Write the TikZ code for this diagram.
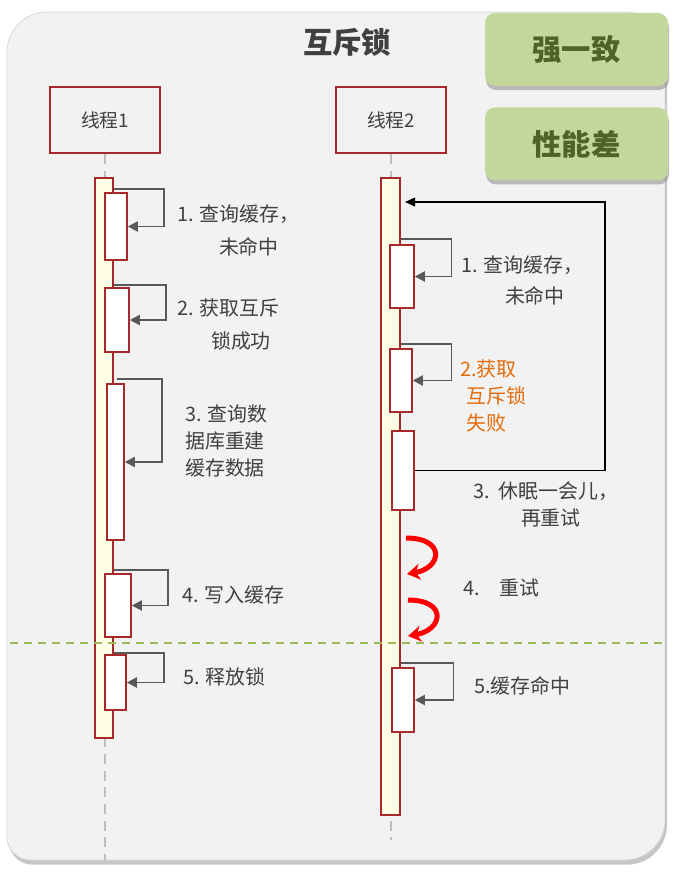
\documentclass[tikz,border=0pt]{standalone}
\usepackage{fontspec}
\setmainfont{Noto Sans CJK SC}
\usepackage{tikz}
\usetikzlibrary{arrows.meta, positioning, calc, shadows}
\definecolor{panelgray}{HTML}{F2F2F2}
\definecolor{panelline}{HTML}{D4D4D4}
\definecolor{lockred}{HTML}{A9292B}
\definecolor{barfill}{HTML}{FFFFE6}
\definecolor{textgray}{HTML}{404040}
\definecolor{arrowgray}{HTML}{595959}
\definecolor{greenbox}{HTML}{C3D69B}
\definecolor{greentext}{HTML}{4F6228}
\definecolor{failorange}{HTML}{E46C0A}
\definecolor{splitgreen}{HTML}{9BBB59}
\definecolor{lifegray}{HTML}{BFBFBF}

\begin{document}
\begin{tikzpicture}[
    x=0.3mm, y=-0.3mm,
    node distance=6.3mm,
    panel/.style={
        draw=panelline,
        fill=panelgray,
        line width=0.6pt,
        drop shadow={shadow xshift=0.6mm, shadow yshift=-1.4mm, opacity=0.45}
    },
    tagbox/.style={
        rectangle,
        rounded corners=3mm,
        fill=greenbox,
        minimum width=54.9mm,
        minimum height=21.9mm,
        font=\fontsize{25}{30}\selectfont\bfseries,
        text=greentext,
        drop shadow={shadow xshift=0.3mm, shadow yshift=-1.2mm, opacity=0.5}
    },
    thread/.style={
        rectangle,
        draw=lockred,
        line width=1.5pt,
        minimum width=33mm,
        minimum height=19.8mm,
        font=\fontsize{16}{20}\selectfont,
        text=textgray
    },
    bar/.style={rectangle, draw=lockred, fill=barfill, line width=1.5pt, minimum width=5.5mm, inner sep=0pt},
    callbox/.style={rectangle, draw=lockred, fill=white, line width=1.5pt, minimum width=7mm, inner sep=0pt, anchor=west},
    lifeline/.style={draw=lifegray, line width=1.2pt, dash pattern=on 3mm off 2mm},
    selfarrow/.style={-{Triangle[length=3mm, width=3mm]}, draw=arrowgray, line width=1.6pt},
    loopback/.style={-{Triangle[length=3mm, width=2.6mm]}, draw=black, line width=1.4pt},
    retry/.style={-{Stealth[length=3.9mm, width=4.8mm]}, draw=red, line width=1.5mm},
    note/.style={anchor=west, align=left, inner sep=0pt, font=\fontsize{17}{23}\selectfont, text=textgray},
    split/.style={draw=splitgreen, line width=1.3pt, dash pattern=on 2.4mm off 1.8mm}
]
\useasboundingbox (0,0) rectangle (685,879);

% background
\draw[panel] (7,440) [rounded corners=12mm] -- (7,12) -- (665,12) -- (665,860) [rounded corners=7mm] -- (7,860) [rounded corners=12mm] -- cycle;

\node[tagbox] (strong) at (576.5,49.5) {强一致};
\node[tagbox, below=of strong] (slow) {性能差};
\node[font=\fontsize{25}{30}\selectfont\bfseries, text=textgray] (title) at (347,42) {互斥锁};

\node[thread] (t1) at (105,120) {线程1};
\node[thread] (t2) at (391,120) {线程2};
\coordinate (end1) at (105,860);
\coordinate (end2) at (391,840);
\draw[lifeline] (t1.south) -- (end1);
\draw[lifeline] (t2.south) -- (end2);

\node[bar, minimum height=168mm] (bar1) at (104,458) {};
\node[bar, minimum height=191.1mm] (bar2) at (390.5,496.5) {};

% thread 1
\node[callbox, minimum width=6.6mm, minimum height=20.1mm] (a1) at (104,226.5) {};
\node[callbox, minimum width=7.2mm, minimum height=19.2mm] (a2) at (104,320) {};
\node[callbox, minimum width=5.1mm, minimum height=46.8mm] (a3) at (106,462) {};
\node[callbox, minimum width=7.8mm, minimum height=18.9mm] (a4) at (104,605.5) {};
\node[callbox, minimum width=6.3mm, minimum height=16.5mm] (a5) at (104,682.5) {};

% thread 2
\node[callbox, minimum width=7.2mm, minimum height=18.9mm] (b1) at (389,276.5) {};
\node[callbox, minimum width=6.6mm, minimum height=18.9mm] (b2) at (389,380.5) {};
\node[callbox, minimum width=6.6mm, minimum height=23.7mm] (b3) at (391,470.5) {};
\node[callbox, minimum width=6.6mm, minimum height=19.2mm] (b5) at (391,700) {};

\draw[selfarrow] ($(a1.north -| bar1.east)+(0,-3)$) -- ++(50,0) |- (a1.east);
\draw[selfarrow] ($(a2.north -| bar1.east)+(0,-2)$) -- ++(52,0) |- (a2.east);
\draw[selfarrow] ($(a3.north -| bar1.east)+(3,-4)$) -- ++(45,0) |- (a3.east);
\draw[selfarrow] ($(a4.north -| bar1.east)+(0,-3)$) -- ++(54,0) |- (a4.east);
\draw[selfarrow] ($(a5.north -| bar1.east)+(0,-1)$) -- ++(50,0) |- (a5.east);

\draw[selfarrow] ($(b1.north -| bar2.east)+(0,-5)$) -- ++(51,0) |- (b1.east);
\draw[selfarrow] ($(b2.north -| bar2.east)+(0,-4)$) -- ++(51,0) |- (b2.east);
\draw[selfarrow] ($(b5.north -| bar2.east)+(0,-4)$) -- ++(53,0) |- (b5.east);

\coordinate (wake) at (405,202);
\draw[loopback] (b3.east) -- ++(190,0) |- (wake);

\coordinate (r1s) at (406,538);
\coordinate (r1e) at (407,574);
\coordinate (r2s) at (408,600);
\coordinate (r2e) at (408,636);
\draw[retry] (r1s) .. controls (446,538) and (442,568) .. (r1e);
\draw[retry] (r2s) .. controls (448,600) and (443,630) .. (r2e);

\node[note] (n1) at (177,230.5) {1. 查询缓存，\\[5pt]\hspace*{2.1em}未命中};
\node[note] (n2) at (177,324.5) {2. 获取互斥\\[5pt]\hspace*{1.7em}锁成功};
\node[note] (n3) at (185,441) {3. 查询数\\据库重建\\缓存数据};
\node[note] (n4) at (182,595) {4. 写入缓存};
\node[note] (n5) at (183,677) {5. 释放锁};

\node[note] (m1) at (461,280.5) {1. 查询缓存，\\[4pt]\hspace*{2.2em}未命中};
\node[note, text=failorange] (m2) at (460,395.5) {2.获取\\\hspace*{0.3em}互斥锁\\\hspace*{0.3em}失败};
\node[note] (m3) at (473,504) {3.\ \ 休眠一会儿，\\\hspace*{2.4em}再重试};
\node[note] (m4) at (463,588) {4.\hspace{1em}重试};
\node[note] (m5) at (474,686) {5.缓存命中};

\coordinate (splitl) at (10,643);
\coordinate (splitr) at (665,643);
\draw[split] (splitl) -- (splitr);

\end{tikzpicture}
\end{document}
